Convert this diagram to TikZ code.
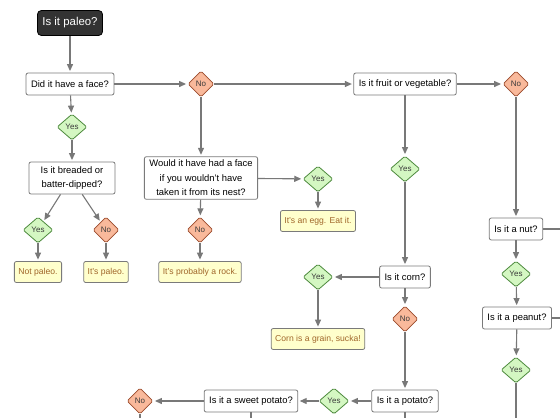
\documentclass[tikz,border=0pt]{standalone}
\usepackage{fontspec}
\setmainfont{Liberation Sans}
\usetikzlibrary{arrows.meta,shapes.geometric}
\definecolor{linegray}{HTML}{787878}
\definecolor{boxgray}{HTML}{7A7A7A}
\definecolor{darkbox}{HTML}{333333}
\definecolor{yesfill}{HTML}{D4F7C2}
\definecolor{yesborder}{HTML}{4E8A3E}
\definecolor{nofill}{HTML}{F9B99B}
\definecolor{noborder}{HTML}{9A4B2C}
\definecolor{diatext}{HTML}{3A3A3A}
\definecolor{ansfill}{HTML}{FFFFCC}
\definecolor{anstext}{HTML}{A0662A}
\tikzstyle{qbox}=[draw=boxgray,fill=white,rounded corners=2pt,inner xsep=5pt,
                minimum height=22pt,line width=0.8pt,align=center,
                font=\fontsize{9.4}{14.5}\selectfont]
\tikzstyle{startbox}=[draw=black,fill=darkbox,text=white,rounded corners=4pt,
                inner xsep=5pt,minimum height=25pt,line width=0.8pt,
                font=\fontsize{11.4}{13}\selectfont]
\tikzstyle{yesd}=[diamond,draw=yesborder,fill=yesfill,rounded corners=1.5pt,
                inner sep=0pt,minimum width=30pt,minimum height=26pt,line width=0.8pt,
                text=diatext,font=\fontsize{8}{9}\selectfont]
\tikzstyle{nod}=[yesd,draw=noborder,fill=nofill,minimum width=26pt]
\tikzstyle{ansbox}=[draw=boxgray,fill=ansfill,text=anstext,rounded corners=2pt,
                inner xsep=4pt,minimum height=21pt,line width=0.8pt,
                font=\fontsize{8.6}{10}\selectfont]
\tikzstyle{flow}=[every edge/.style={draw=linegray,line width=1.1pt,
                -{Triangle[length=7pt,width=6pt]},shorten >=1.5pt}]
\tikzstyle{offpage}=[-,shorten >=0pt]

\begin{document}
\begin{tikzpicture}[x=1pt,y=-1pt,flow]
\path[use as bounding box] (0,0) rectangle (560,418);

\node[startbox] (paleo) at (70,23) {Is it paleo?};
\node[qbox] (face) at (70,84) {Did it have a face?};
\node[nod] (noface) at (201,84) {No};
\node[qbox] (fruit) at (405,84) {Is it fruit or vegetable?};
\node[nod] (nofruit) at (516,84) {No};

\node[yesd] (yesface) at (72,127) {Yes};
\node[qbox,minimum width=86pt,minimum height=32pt] (breaded) at (72,178) {Is it breaded or\\batter-dipped?};
\node[qbox] (nest) at (201,178) {Would it have had a face\\if you wouldn't have\\taken it from its nest?};
\node[yesd] (yesnest) at (318,179) {Yes};
\node[ansbox] (egg) at (318,221) {It's an egg. Eat it.};
\node[yesd] (yesfruit) at (405,169) {Yes};

\node[yesd] (yesbread) at (38,230) {Yes};
\node[nod] (nobread) at (106,230) {No};
\node[nod] (nonest) at (200,230) {No};
\node[ansbox] (notpaleo) at (38,272) {Not paleo.};
\node[ansbox] (ispaleo) at (106,272) {It's paleo.};
\node[ansbox] (rock) at (200,272) {It's probably a rock.};

\node[qbox] (corn) at (405,277) {Is it corn?};
\node[yesd] (yescorn) at (318,277) {Yes};
\node[ansbox] (grain) at (318,339) {Corn is a grain, sucka!};
\node[nod] (nocorn) at (405,319) {No};
\node[qbox] (potato) at (405,401) {Is it a potato?};
\node[yesd] (yespotato) at (334,401) {Yes};
\node[qbox] (sweet) at (251,401) {Is it a sweet potato?};
\node[nod] (nosweet) at (140,401) {No};

\node[qbox] (nut) at (516,229) {Is it a nut?};
\node[yesd] (yesnut) at (516,274) {Yes};
\node[qbox] (peanut) at (517,318) {Is it a peanut?};
\node[yesd] (yespeanut) at (516,370) {Yes};

% free ends at the page edge
\coordinate (nutR) at (560,229);
\coordinate (peanutR) at (560,318);
\coordinate (peanutD) at (516,418);
\coordinate (potatoD) at (405,418);
\coordinate (sweetD) at (251,418);
\coordinate (nosweetD) at (140,418);

\path
(paleo) edge (face)
(face) edge (noface) (face) edge (yesface)
(noface) edge (fruit) (noface) edge (nest)
(yesface) edge (breaded)
(breaded.-125) edge (yesbread) (breaded.-58) edge (nobread)
(yesbread) edge (notpaleo) (nobread) edge (ispaleo)
;
\path
(nest) edge (yesnest) (nest) edge (nonest)
(yesnest) edge (egg) (nonest) edge (rock)
(fruit) edge (nofruit) (fruit) edge (yesfruit)
(yesfruit) edge (corn)
(corn) edge (yescorn) (corn) edge (nocorn)
(yescorn) edge (grain)
(nocorn) edge (potato)
(potato) edge (yespotato) (yespotato) edge (sweet) (sweet) edge (nosweet)
;
\path
(nofruit) edge (nut)
(nut) edge (yesnut) (yesnut) edge (peanut)
(peanut) edge (yespeanut)
(nut) edge[offpage] (nutR)
(peanut) edge[offpage] (peanutR)
(yespeanut) edge[offpage] (peanutD)
(potato) edge[offpage] (potatoD)
(sweet) edge[offpage] (sweetD)
(nosweet) edge[offpage] (nosweetD)
;

\end{tikzpicture}
\end{document}
